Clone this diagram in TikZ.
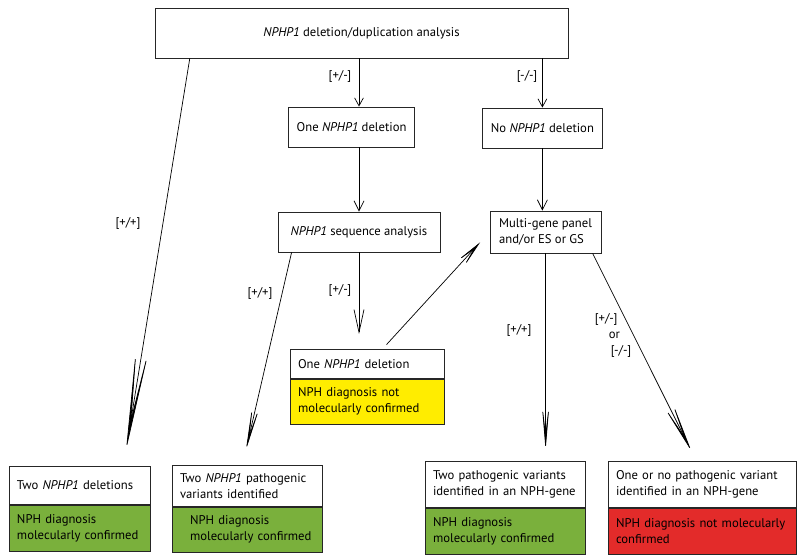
\documentclass[tikz,border=0pt]{standalone}
\usepackage{fontspec}
\setmainfont{PT Sans}
\usetikzlibrary{arrows.meta,calc,positioning}

\definecolor{okgreen}{RGB}{122,176,60}
\definecolor{warnyellow}{RGB}{255,237,0}
\definecolor{failred}{RGB}{227,43,42}

\tikzset{
    box/.style={draw=black!85,line width=0.6pt,inner xsep=0.2cm,inner ysep=1pt},
    resbox/.style={box,align=left,anchor=north},
    barb/.style 2 args={-{Straight Barb[length=#1,width=#2]}},
    dart/.style 2 args={-{Stealth[length=#1,width=#2,inset=0.72*#1]}},
    tag/.style={inner sep=1pt}
}

\begin{document}
\begin{tikzpicture}[font=\fontsize{9}{11.4}\selectfont,line width=0.5pt]
        % The frame
        \useasboundingbox (0,0) rectangle (20,14);
        % Test boxes
        \node[box,minimum width=10.33cm,minimum height=1.25cm] (dupl) at (9.04,13.175)
            {\textit{NPHP1} deletion/duplication analysis};
        \node[box,minimum width=3.08cm,minimum height=1cm] (onedel) at (8.79,10.825)
            {One \textit{NPHP1} deletion};
        \node[box,minimum width=2.98cm,minimum height=1cm] (nodel) at (13.56,10.8)
            {No \textit{NPHP1} deletion};
        \node[box,minimum width=4.05cm,minimum height=1cm] (seq) at (8.975,8.2)
            {\textit{NPHP1} sequence analysis};
        \node[box,align=left,inner xsep=0.1cm,minimum width=2.78cm,minimum height=1.05cm] (panel) at (13.64,8.2)
            {Multi-gene panel\\and/or ES or GS};
        % The outcomes
        \node[resbox,text width=3.45cm,minimum height=0.725cm,fill=white] (yelhead) at (9.175,5.275)
            {One \textit{NPHP1} deletion};
        \node[resbox,text width=3.45cm,minimum height=1.125cm,fill=warnyellow] (yeldiag) at (yelhead.south)
            {NPH diagnosis not\\molecularly confirmed};
        \node[resbox,text width=3.125cm,minimum height=0.95cm] (twodelhead) at (1.9875,2.35)
            {Two \textit{NPHP1} deletions};
        \node[resbox,text width=3.125cm,minimum height=1.15cm,fill=okgreen] (twodeldiag) at (twodelhead.south)
            {NPH diagnosis\\molecularly confirmed};
        \node[resbox,text width=3.35cm,minimum height=1.025cm] (twovarhead) at (6.175,2.375)
            {Two \textit{NPHP1} pathogenic\\variants identified};
        \node[resbox,text width=3.35cm,minimum height=1.125cm,fill=okgreen] (twovardiag) at (twovarhead.south)
            {\hspace*{0.25cm}NPH diagnosis\\\hspace*{0.25cm}molecularly confirmed};
        \node[resbox,text width=3.6cm,minimum height=1.15cm] (twopathhead) at (12.625,2.475)
            {Two pathogenic variants\\identified in an NPH-gene};
        \node[resbox,text width=3.6cm,minimum height=1.15cm,fill=okgreen] (twopathdiag) at (twopathhead.south)
            {NPH diagnosis\\molecularly confirmed};
        \node[resbox,text width=4.3cm,minimum height=1.15cm] (nopathhead) at (17.55,2.475)
            {One or no pathogenic variant\\identified in an NPH-gene};
        \node[resbox,text width=4.3cm,minimum height=1.15cm,fill=failred] (nopathdiag) at (nopathhead.south)
            {NPH diagnosis not molecularly\\confirmed};
        % The arrows
        \draw[barb={0.2cm}{0.22cm}] (dupl.south -| seq.north) -- (onedel.north -| seq.north);
        \draw[barb={0.2cm}{0.22cm}] (dupl.south -| nodel.north) -- (nodel.north);
        \draw[barb={0.25cm}{0.25cm}] (onedel.south -| seq.north) -- (seq.north);
        \draw[barb={0.25cm}{0.25cm}] (nodel.south) -- (nodel.south |- panel.north);
        \draw[dart={3cm}{0.38cm},shorten >=0.4cm]
            ($(dupl.south west)!0.085!(dupl.south east)$)
            -- ($(twodelhead.north west)!0.81!(twodelhead.north east)$);
        \draw[dart={1.5cm}{0.25cm},shorten >=0.375cm]
            ($(seq.south west)!0.086!(seq.south east)$)
            -- ($(twovarhead.north west)!0.47!(twovarhead.north east)$);
        \draw[barb={0.57cm}{0.25cm},shorten >=0.375cm] (seq.south) -- (yelhead.north -| seq.south);
        \draw[dart={0.9cm}{0.28cm},shorten >=0.35cm,shorten <=0.15cm]
            ($(yelhead.north west)!0.6!(yelhead.north east)$) -- (panel.west);
        \draw[dart={1.5cm}{0.25cm},shorten >=0.275cm] (panel.south) -- (twopathhead.north -| panel.south);
        \draw[dart={1.6cm}{0.3cm},shorten >=0.275cm]
            ($(panel.south west)!0.92!(panel.south east)$)
            -- ($(nopathhead.north west)!0.47!(nopathhead.north east)$);
        % Label the arrows
        \node[tag] (tagA) at (8.5,12.1) {[+/-]};
        \node[tag] (tagB) at (13.175,12.1) {[-/-]};
        \node[tag] (tagC) at (3.2,8.425) {[+/+]};
        \node[tag] (tagD) at (6.5,6.675) {[+/+]};
        \node[tag] (tagE) at (8.5,6.75) {[+/-]};
        \node[tag] (tagF) at (12.975,5.75) {[+/+]};
        \node[tag,align=left,anchor=west] (tagG) at (14.825,5.625)
            {[+/-]\\\hspace*{0.35cm}or\\\hspace*{0.4cm}[-/-]};
    \end{tikzpicture}
\end{document}
